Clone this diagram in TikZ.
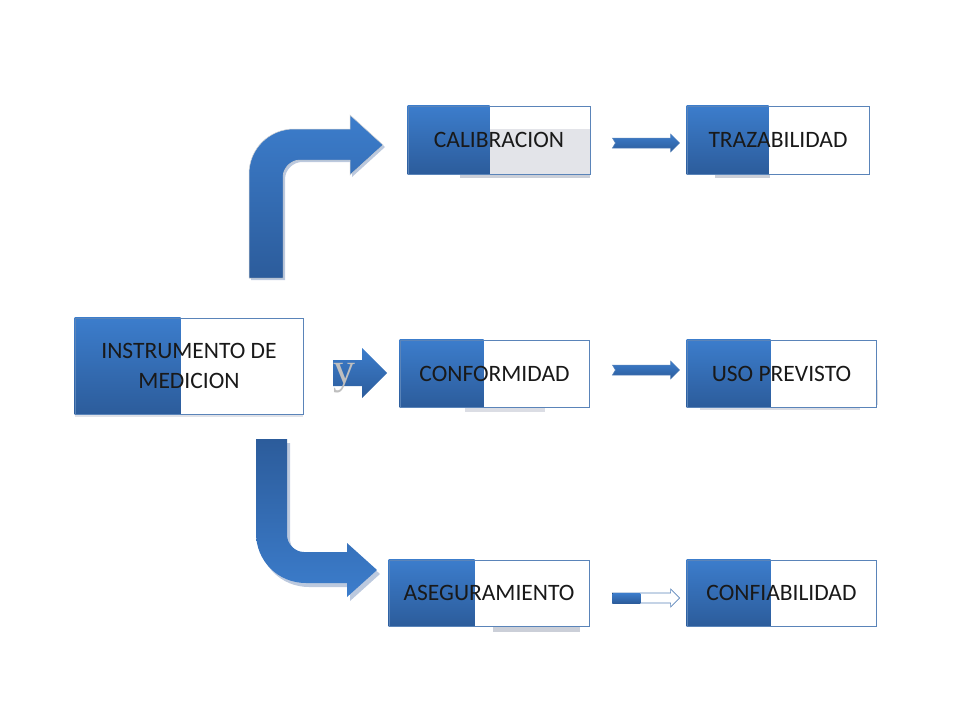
\documentclass[tikz,border=0pt]{standalone}
\usepackage{fontspec}
\setmainfont{Carlito}
\newfontfamily\serifmark{Liberation Serif}
\usetikzlibrary{calc,backgrounds}

\definecolor{blueTop}{HTML}{3C7DCC}
\definecolor{blueBottom}{HTML}{2C5C9B}
\definecolor{boxLine}{HTML}{5A84B9}
\definecolor{paleGray}{HTML}{E3E4E9}
\definecolor{shadowGray}{HTML}{CBCFD8}
\definecolor{arrowShadow}{HTML}{BCC9DE}

\tikzset{
	box/.style={draw=boxLine, line width=0.8pt, minimum width=189, minimum height=67, inner sep=0pt, align=center, font=\fontsize{23.5}{30}\selectfont, text=black!90},
	bluePart/.style={top color=blueTop, bottom color=blueBottom},
	ymark/.style={font=\serifmark\fontsize{44}{44}\selectfont, text=gray!50, inner sep=0pt},
}

\begin{document}
\begin{tikzpicture}[x=1pt,y=-1pt]
		\newcommand{\upArrowPath}{(249,278) -- (249,174) .. controls (249,149) and (269,129) .. (294,129) -- (350,129) -- (350,115) -- (383,145) -- (350,175) -- (350,160) -- (300,160) .. controls (291,160) and (283,168) .. (283,177) -- (283,278) -- cycle}
		\newcommand{\downArrowPath}{(256,439) -- (256,533) .. controls (256,561) and (278,583) .. (306,583) -- (347,583) -- (347,597) -- (377,570) -- (347,543) -- (347,552) -- (304,552) .. controls (295,552) and (287,544) .. (287,535) -- (287,439) -- cycle}
		\newcommand{\smallArrow}[3]{\path[#3] ($(#1)+(0,-5)$) -- ($(#2)+(-9,-5)$) -- ($(#2)+(-9,-9)$) -- (#2) -- ($(#2)+(-9,9)$) -- ($(#2)+(-9,5)$) -- ($(#1)+(0,5)$) -- ($(#1)+(3,0)$) -- cycle;}
		
		\useasboundingbox (0,0) rectangle (960,720);		% page
		
		% boxes
		\node[box, minimum width=228, minimum height=96] (instr) at (189,366) {INSTRUMENTO DE\\MEDICION};
		\node[box, minimum width=182, minimum height=68] (cal) at (499,140) {CALIBRACION};
		\node[box, minimum width=182, minimum height=68] (traz) at (778,140) {TRAZABILIDAD};
		\node[box] (conf) at (494.5,373.5) {CONFORMIDAD};
		\node[box] (uso) at (781.5,373.5) {USO PREVISTO};
		\node[box, minimum width=200, minimum height=66] (aseg) at (489,593) {ASEGURAMIENTO};
		\node[box, minimum height=66] (confi) at (781.5,593) {CONFIABILIDAD};
		
		\begin{scope}[on background layer]
		% shadows under the boxes
		\fill[shadowGray!60] (instr.south west) rectangle ($(instr.south east)+(0,3)$);
		\fill[shadowGray] ($(cal.south west)+(52,0)$) rectangle ($(cal.south east)+(0,4)$);
		\fill[shadowGray] ($(traz.south west)+(28,0)$) rectangle ($(traz.south west)+(83,4)$);
		\fill[shadowGray!70] ($(conf.south west)+(65,0)$) rectangle ($(conf.south west)+(145,5)$);
		\fill[shadowGray!70] ($(uso.south west)+(13,0)$) rectangle ($(uso.south east)+(-16,3)$);
		\fill[shadowGray!70] ($(uso.east)+(-6,6)$) rectangle ($(uso.south east)+(2,-2)$);
		\fill[shadowGray] ($(aseg.south west)+(104,0)$) rectangle ($(aseg.south west)+(191,6)$);
		
		% white faces, grey half of CALIBRACION, blue halves
		\foreach \n in {instr,cal,traz,conf,uso,aseg,confi}
			\fill[white] (\n.south west) rectangle (\n.north east);
		\fill[paleGray] ($(cal.east)+(-100,-11)$) rectangle (cal.south east);
		\foreach \n/\w in {instr/106,cal/82,traz/82,conf/84,uso/84,aseg/86,confi/84}
			\fill[bluePart] (\n.south west) rectangle ($(\n.north west)+(\w,0)$);
		\end{scope}
		
		% bent arrows
		\fill[arrowShadow, xshift=2pt, yshift=-2pt] \upArrowPath;
		\shade[top color=blueTop, bottom color=blueBottom, draw=gray!35, line width=0.5pt] \upArrowPath;
		\fill[arrowShadow, xshift=3pt, yshift=-4pt] \downArrowPath;
		\shade[top color=blueBottom, bottom color=blueTop] \downArrowPath;
		
		% middle arrow with its y
		\shade[bluePart] (333,360) -- (362,360) -- (362,348) -- (387,373) -- (362,398) -- (362,386) -- (333,386) -- cycle;
		\node[ymark, anchor=base] (andMark) at (344.5,383) {y};
		
		% small arrows between the columns
		\coordinate (calOut) at ($(cal.east)+(22,3)$);
		\coordinate (trazIn) at ($(traz.west)+(-7,3)$);
		\coordinate (confOut) at ($(conf.east)+(23,-3.5)$);
		\coordinate (usoIn) at ($(uso.west)+(-7,-3.5)$);
		\coordinate (asegOut) at ($(aseg.east)+(23,5)$);
		\coordinate (confiIn) at ($(confi.west)+(-7,5)$);
		
		\smallArrow{calOut}{trazIn}{bluePart, draw=boxLine, line width=0.5pt}
		\smallArrow{confOut}{usoIn}{bluePart, draw=boxLine, line width=0.5pt}
		\smallArrow{asegOut}{confiIn}{fill=white, draw=boxLine, line width=0.6pt}
		\fill[bluePart] ($(asegOut)+(0,-5)$) rectangle ($(asegOut)+(28,5)$);		% filled part
\end{tikzpicture}
\end{document}
